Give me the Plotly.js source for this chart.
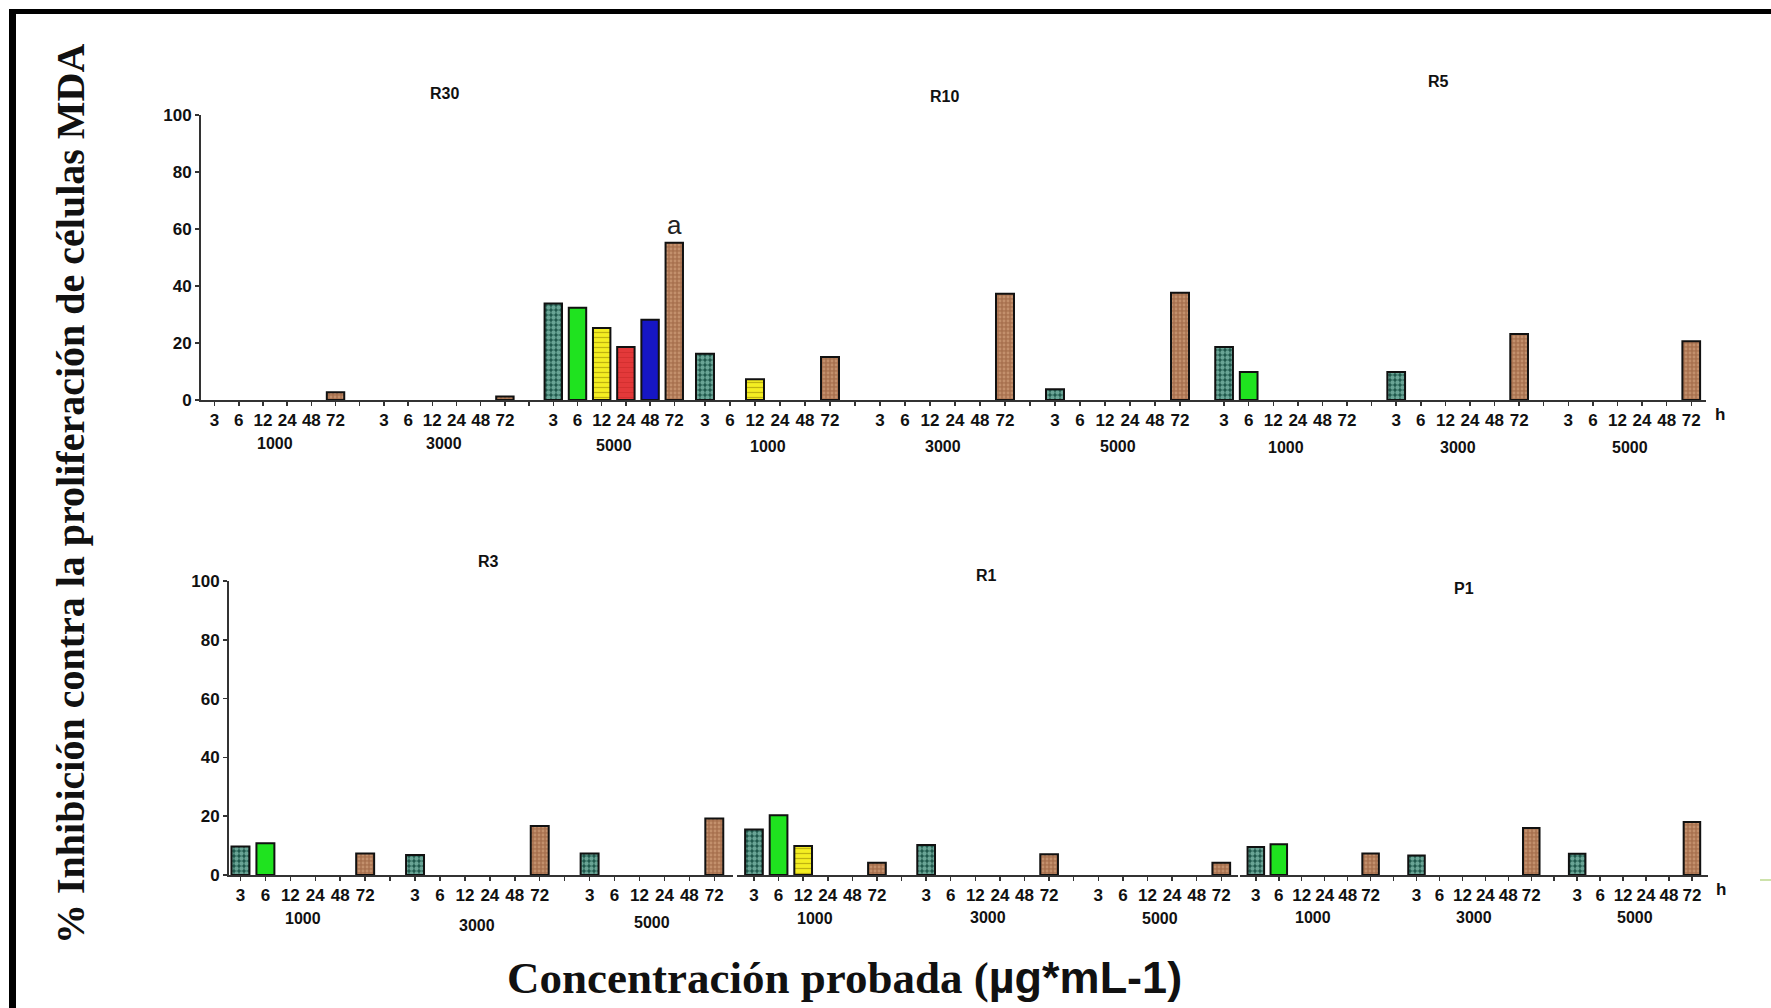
<!DOCTYPE html>
<html>
<head>
<meta charset="utf-8">
<script src="https://cdn.plot.ly/plotly-3.0.1.min.js"></script>
<style>html,body{margin:0;padding:0;background:#fff;}#chart{width:1771px;height:1008px;}</style>
</head>
<body>
<div id="chart"></div>
<script>
// ---- data ----
const hours = ['3', '6', '12', '24', '48', '72'];
const concentrations = ['1000', '3000', '5000'];
const panelNames = ['R30', 'R10', 'R5', 'R3', 'R1', 'P1'];
// values: [concentration][hour], % inhibition
const R30 = [[0, 0, 0, 0, 0, 2.7], [0, 0, 0, 0, 0, 1.2], [33.9, 32.4, 25.3, 18.6, 28.2, 55.2]];
const R10 = [[16.2, 0, 7.3, 0, 0, 15.1], [0, 0, 0, 0, 0, 37.3], [3.8, 0, 0, 0, 0, 37.6]];
const R5  = [[18.6, 9.8, 0, 0, 0, 0], [9.8, 0, 0, 0, 0, 23.2], [0, 0, 0, 0, 0, 20.6]];
const R3  = [[9.7, 10.8, 0, 0, 0, 7.3], [6.8, 0, 0, 0, 0, 16.7], [7.3, 0, 0, 0, 0, 19.2]];
const R1  = [[15.5, 20.3, 9.9, 0, 0, 4.2], [10.2, 0, 0, 0, 0, 7.1], [0, 0, 0, 0, 0, 4.2]];
const P1  = [[9.5, 10.5, 0, 0, 0, 7.3], [6.6, 0, 0, 0, 0, 16.0], [7.2, 0, 0, 0, 0, 18.0]];
const panelValues = [R30, R10, R5, R3, R1, P1];
const yTicks = [0, 20, 40, 60, 80, 100];

// ---- styles per hour ----
const hourStyle = [
  {bg: '#1d5649', fg: '#b6f2e2', shape: '.', size: 5, sol: 0.6},
  {bg: '#1fe31f', fg: '#1fe31f', shape: '', size: 6, sol: 0.3},
  {bg: '#f4ee22', fg: '#8a7600', shape: '-', size: 5, sol: 0.25},
  {bg: '#e3393a', fg: '#b82020', shape: '-', size: 5, sol: 0.15},
  {bg: '#1616c4', fg: '#1616c4', shape: '', size: 6, sol: 0.3},
  {bg: '#a8714f', fg: '#ddb08a', shape: '.', size: 4, sol: 0.4}
];

const W = 1771, H = 1008;
const px = v => v / W;
const py = v => 1 - v / H;

// subplot geometry (pixels)
const panelsGeom = [
  {xa: 'x',  ya: 'y',  dom: [201, 690],  range: [-0.56, 19.65], lab: [-44, -44, -46]},
  {xa: 'x2', ya: 'y',  dom: [690, 1200], range: [-0.6, 19.8],   lab: [-47, -47, -47]},
  {xa: 'x3', ya: 'y',  dom: [1200, 1706], range: [-0.98, 19.6], lab: [-48, -48, -48]},
  {xa: 'x4', ya: 'y2', dom: [229, 733],  range: [-0.46, 19.75], lab: [-43, -50, -47]},
  {xa: 'x5', ya: 'y2', dom: [737, 1238], range: [-0.69, 19.68], lab: [-43, -42, -43]},
  {xa: 'x6', ya: 'y2', dom: [1240, 1708], range: [-0.69, 19.7], lab: [-42, -42, -42]}
];
const titlePos = [[444, 93], [944, 96], [1438, 81], [489, 561], [986, 575], [1464, 588]];

const tickVals = [], tickText = [];
concentrations.forEach((c, gi) => {
  hours.forEach((h, hi) => { tickVals.push(gi * 7 + hi); tickText.push(h); });
  if (gi < concentrations.length - 1) { tickVals.push(gi * 7 + 6); tickText.push(''); }
});

const traces = [];
const layout = {
  width: W, height: H,
  margin: {l: 0, r: 0, t: 0, b: 0},
  paper_bgcolor: '#ffffff', plot_bgcolor: 'rgba(0,0,0,0)',
  showlegend: false,
  hovermode: false,
  annotations: [],
  shapes: []
};

panelValues.forEach((vals, pi) => {
  const g = panelsGeom[pi];
  hours.forEach((h, hi) => {
    const x = [], y = [];
    vals.forEach((row, gi) => { if (row[hi] > 0) { x.push(gi * 7 + hi); y.push(row[hi]); } });
    if (!x.length) return;
    const s = hourStyle[hi];
    const marker = {color: s.bg, line: {color: '#111', width: 2}};
    if (s.shape) marker.pattern = {shape: s.shape, fgcolor: s.fg, bgcolor: s.bg, size: s.size, solidity: s.sol, fillmode: 'overlay'};
    traces.push({type: 'bar', x: x, y: y, xaxis: g.xa, yaxis: g.ya, width: 0.72, marker: marker, name: panelNames[pi] + ' ' + h + ' h'});
  });
  const axName = g.xa === 'x' ? 'xaxis' : 'xaxis' + g.xa.slice(1);
  layout[axName] = {
    domain: [px(g.dom[0]), px(g.dom[1])], range: g.range, anchor: g.ya,
    showgrid: false, zeroline: false, showline: true, linecolor: '#333', linewidth: 2,
    ticks: 'outside', ticklen: 4, tickwidth: 1.5, tickcolor: '#333',
    tickmode: 'array', tickvals: tickVals, ticktext: tickText,
    tickfont: {family: 'Liberation Sans, Arial, sans-serif', size: 17, color: '#111', weight: 'bold'},
    fixedrange: true
  };
  // concentration group labels
  concentrations.forEach((c, gi) => {
    layout.annotations.push({
      text: '<b>' + c + '</b>', xref: g.xa, yref: g.ya + ' domain', x: gi * 7 + 2.5, y: 0,
      yanchor: 'middle', yshift: g.lab[gi], showarrow: false,
      font: {family: 'Liberation Sans, Arial, sans-serif', size: 16, color: '#111'}
    });
  });
  // panel title
  layout.annotations.push({
    text: '<b>' + panelNames[pi] + '</b>', xref: 'paper', yref: 'paper',
    x: px(titlePos[pi][0]), y: py(titlePos[pi][1]), xanchor: 'center', yanchor: 'middle',
    showarrow: false, font: {family: 'Liberation Sans, Arial, sans-serif', size: 16, color: '#111'}
  });
});

const yBase = {
  range: [0, 100], showgrid: false, zeroline: false, showline: true, linecolor: '#333', linewidth: 2,
  ticks: 'outside', ticklen: 4, tickwidth: 1.5, tickcolor: '#333',
  tickmode: 'array', tickvals: yTicks, ticktext: yTicks.map(String),
  tickfont: {family: 'Liberation Sans, Arial, sans-serif', size: 17, color: '#111', weight: 'bold'},
  fixedrange: true
};
layout.yaxis = Object.assign({}, yBase, {domain: [py(400), py(115)], anchor: 'x'});
layout.yaxis2 = Object.assign({}, yBase, {domain: [py(875), py(581)], anchor: 'x4'});

// "a" marker above the R30 5000 µg/mL 72 h bar
layout.annotations.push({
  text: 'a', xref: 'x', yref: 'y', x: 2 * 7 + 5, y: R30[2][5], yanchor: 'bottom', yshift: 1,
  showarrow: false, font: {family: 'Liberation Sans, Arial, sans-serif', size: 26, color: '#222'}
});
// "h" unit labels
[[1720, 414], [1721, 889]].forEach(p => layout.annotations.push({
  text: '<b>h</b>', xref: 'paper', yref: 'paper', x: px(p[0]), y: py(p[1]),
  xanchor: 'center', yanchor: 'middle', showarrow: false,
  font: {family: 'Liberation Sans, Arial, sans-serif', size: 17, color: '#111'}
}));

// axis titles
layout.annotations.push({
  text: '<b>% Inhibición contra la proliferación de células MDA</b>', xref: 'paper', yref: 'paper',
  x: px(70), y: py(494), xanchor: 'center', yanchor: 'middle', textangle: -90, showarrow: false,
  font: {family: 'Liberation Serif, Times New Roman, serif', size: 40, color: '#111'}
});
layout.annotations.push({
  text: '<b>Concentración probada (<span style="font-family:Liberation Sans, Arial, sans-serif">µg*mL-1)</span></b>',
  xref: 'paper', yref: 'paper', x: px(844), y: py(977), xanchor: 'center', yanchor: 'middle', showarrow: false,
  font: {family: 'Liberation Serif, Times New Roman, serif', size: 45, color: '#111'}
});

// frame
layout.shapes.push({type: 'rect', xref: 'paper', yref: 'paper', x0: px(9), x1: px(16), y0: 0, y1: py(9),
  fillcolor: '#000', line: {width: 0}, layer: 'above'});
layout.shapes.push({type: 'rect', xref: 'paper', yref: 'paper', x0: px(9), x1: 1, y0: py(14), y1: py(9),
  fillcolor: '#000', line: {width: 0}, layer: 'above'});
layout.shapes.push({type: 'line', xref: 'paper', yref: 'paper', x0: px(1760), x1: 1, y0: py(880), y1: py(880),
  line: {color: '#bcd98f', width: 1.5}});

Plotly.newPlot('chart', traces, layout, {displayModeBar: false, staticPlot: true});
</script>
</body>
</html>
